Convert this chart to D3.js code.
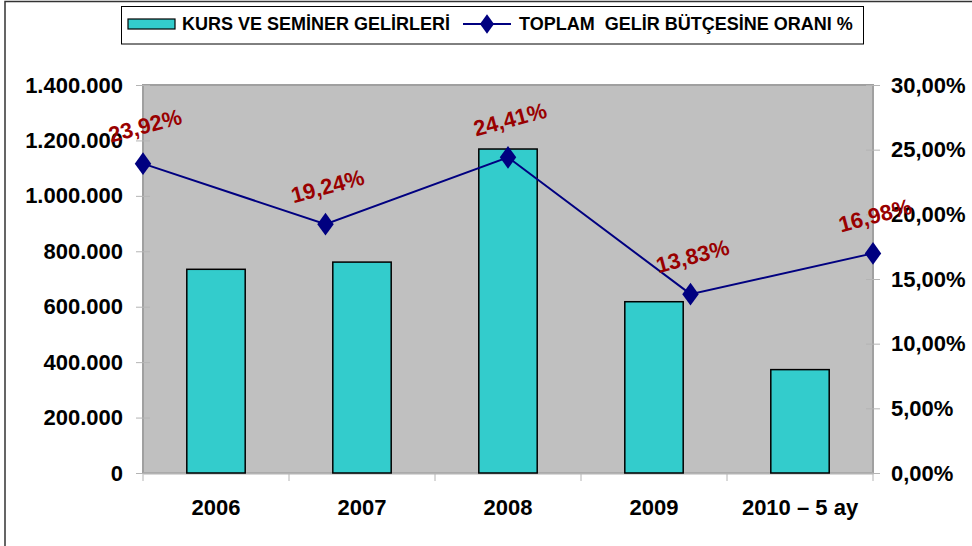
<!DOCTYPE html>
<html>
<head>
<meta charset="utf-8">
<script src="https://cdn.jsdelivr.net/npm/d3@7"></script>
<style>
  html, body { margin: 0; padding: 0; background: #fff; }
  svg { display: block; font-family: "Liberation Sans", Arial, sans-serif; font-weight: bold; }
</style>
</head>
<body>
<svg id="chart" width="972" height="546"></svg>
<script>
// Course & seminar income by year, and its share of total income budget
const categories = ["2006", "2007", "2008", "2009", "2010 – 5 ay"];
const incomeValues = [735000, 761000, 1169000, 618000, 373000];
const ratioValues = [23.92, 19.24, 24.41, 13.83, 16.98];
const leftTicks = [0, 200000, 400000, 600000, 800000, 1000000, 1200000, 1400000];
const rightTicks = [0, 5, 10, 15, 20, 25, 30];
const seriesNames = ["KURS VE SEMİNER GELİRLERİ", "TOPLAM  GELİR BÜTÇESİNE ORANI %"];

const trLocale = d3.formatLocale({ decimal: ",", thousands: ".", grouping: [3], currency: ["", ""] });
const fmtThousands = trLocale.format(",d");
const fmtPct = trLocale.format(".2f");

const svg = d3.select("#chart");
const plot = { left: 143, right: 873, top: 85, bottom: 473 };
const FONT = "'Liberation Sans', Arial, sans-serif";

// outer chart frame (runs off the right and bottom edges)
svg.append("path")
  .attr("d", "M5,560 L5,1.5 L980,1.5")
  .attr("fill", "none").attr("stroke", "#333").attr("stroke-width", 1.5);

const x = d3.scaleBand().domain(categories).range([plot.left, plot.right])
  .paddingInner(0.6).paddingOuter(0.3);
const xp = d3.scalePoint().domain(categories).range([plot.left, plot.right]);
const yL = d3.scaleLinear().domain([0, 1400000]).range([plot.bottom, plot.top]);
const yR = d3.scaleLinear().domain([0, 30]).range([plot.bottom, plot.top]);

// plot area
svg.append("rect")
  .attr("x", plot.left).attr("y", plot.top)
  .attr("width", plot.right - plot.left).attr("height", plot.bottom - plot.top)
  .attr("fill", "#C0C0C0").attr("stroke", "#A0A0A0").attr("stroke-width", 2);

// left axis
const axL = svg.append("g").attr("transform", `translate(${plot.left},0)`)
  .call(d3.axisLeft(yL).tickValues(leftTicks).tickFormat(fmtThousands).tickSizeInner(7).tickSizeOuter(0).tickPadding(13));
axL.select(".domain").remove();
axL.selectAll("line").attr("stroke", "#B4B4B4").attr("x2", 7).attr("x1", -7);
axL.selectAll("text").attr("font-size", 22).attr("font-weight", "bold").attr("fill", "#000")
  .attr("font-family", FONT);

// right axis
const axR = svg.append("g").attr("transform", `translate(${plot.right},0)`)
  .call(d3.axisRight(yR).tickValues(rightTicks).tickFormat(d => fmtPct(d) + "%").tickSizeInner(7).tickSizeOuter(0).tickPadding(11));
axR.select(".domain").remove();
axR.selectAll("line").attr("stroke", "#B4B4B4").attr("x1", -7).attr("x2", 7);
axR.selectAll("text").attr("font-size", 22).attr("font-weight", "bold").attr("fill", "#000")
  .attr("font-family", FONT);

// bottom axis: labels centred under bars, ticks on category boundaries
const axB = svg.append("g").attr("transform", `translate(0,${plot.bottom})`)
  .call(d3.axisBottom(x).tickSize(0).tickPadding(26));
axB.select(".domain").attr("stroke", "#B4B4B4").attr("stroke-width", 2);
axB.selectAll("text").attr("font-size", 22).attr("font-weight", "bold").attr("fill", "#000")
  .attr("font-family", FONT);
const boundaries = categories.map((c, i) => plot.left + i * x.step());
boundaries.push(plot.right);
svg.append("g").selectAll("line").data(boundaries).join("line")
  .attr("x1", d => d).attr("x2", d => d)
  .attr("y1", plot.bottom).attr("y2", plot.bottom + 8)
  .attr("stroke", "#B4B4B4").attr("stroke-width", 1);

// bars
svg.append("g").selectAll("rect").data(incomeValues).join("rect")
  .attr("x", (d, i) => x(categories[i]))
  .attr("y", d => yL(d))
  .attr("width", x.bandwidth())
  .attr("height", d => plot.bottom - yL(d))
  .attr("fill", "#33CCCC").attr("stroke", "#000").attr("stroke-width", 1.5);

// ratio line
const line = d3.line().x((d, i) => xp(categories[i])).y(d => yR(d));
svg.append("path").datum(ratioValues)
  .attr("d", line).attr("fill", "none").attr("stroke", "#000080").attr("stroke-width", 2);

const diamond = d3.symbol().type(d3.symbolDiamond).size(150);
svg.append("g").selectAll("path").data(ratioValues).join("path")
  .attr("transform", (d, i) => `translate(${xp(categories[i])},${yR(d)}) scale(1.25,1)`)
  .attr("d", diamond).attr("fill", "#000080");

// data labels
svg.append("g").selectAll("text").data(ratioValues).join("text")
  .attr("transform", (d, i) => `translate(${xp(categories[i]) + 2},${yR(d) - 38}) rotate(-15)`)
  .attr("text-anchor", "middle").attr("dy", "0.35em")
  .attr("font-size", 22).attr("fill", "#990000")
  .text(d => fmtPct(d) + "%");

// legend
const lg = svg.append("g");
lg.append("rect").attr("x", 121.5).attr("y", 6.5).attr("width", 742).attr("height", 37.5)
  .attr("fill", "#fff").attr("stroke", "#000").attr("stroke-width", 1);
lg.append("rect").attr("x", 128).attr("y", 19).attr("width", 47).attr("height", 10)
  .attr("fill", "#33CCCC").attr("stroke", "#000").attr("stroke-width", 1.2);
lg.append("text").attr("x", 182).attr("y", 24).attr("dy", "0.35em")
  .attr("font-size", 18).attr("fill", "#000").text(seriesNames[0]);
lg.append("line").attr("x1", 463).attr("x2", 511).attr("y1", 24).attr("y2", 24)
  .attr("stroke", "#000080").attr("stroke-width", 2);
lg.append("path").attr("transform", "translate(487,24) scale(1.25,1)")
  .attr("d", d3.symbol().type(d3.symbolDiamond).size(110)).attr("fill", "#000080");
lg.append("text").attr("x", 519).attr("y", 24).attr("dy", "0.35em")
  .attr("font-size", 18).attr("fill", "#000").attr("xml:space", "preserve").text(seriesNames[1]);
</script>
</body>
</html>
